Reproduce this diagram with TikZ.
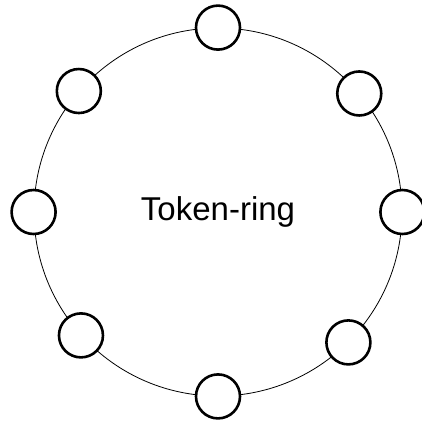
\documentclass[tikz,border=0pt]{standalone}
\usepackage{fontspec}
\setmainfont{Liberation Sans}

\begin{document}
\begin{tikzpicture}[x=1pt,y=-1pt]
  \tikzstyle{ring}=[circle,draw=black,line width=0.8pt,minimum size=368pt,inner sep=0pt,font=\fontsize{33}{40}\selectfont]
  \tikzstyle{station}=[circle,draw=black,fill=white,line width=2.6pt,minimum size=44pt,inner sep=0pt]

  \useasboundingbox (0,0) rectangle (422,421);

  \node[ring] (ring) at (218,212) {Token-ring};

  \foreach \name/\angle in {1/90, 2/40, 3/0, 4/-45, 5/-90, 6/-138, 7/180, 8/139}
    \node[station] (S-\name) at (ring.\angle) {};

\end{tikzpicture}
\end{document}
